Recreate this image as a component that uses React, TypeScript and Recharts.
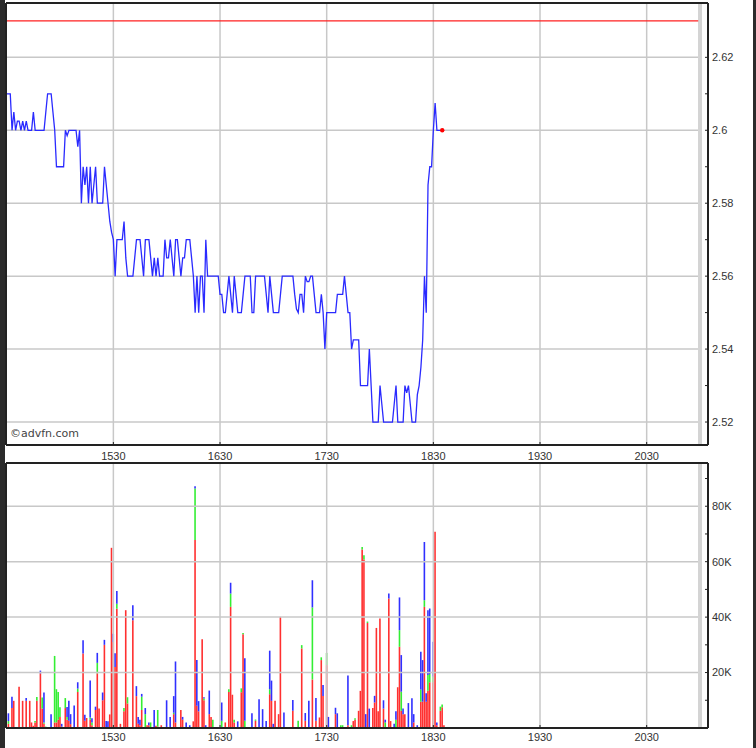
import {
  Bar,
  ComposedChart,
  Line,
  ReferenceDot,
  ReferenceLine,
  XAxis,
  YAxis,
} from "recharts";

// minutes after 14:30, one price per minute
const price = [
  2.61, 2.61, 2.61, 2.6, 2.605, 2.6, 2.6025, 2.6025, 2.6, 2.6025,
  2.6, 2.6025, 2.6, 2.6, 2.6, 2.605, 2.6, 2.6, 2.6, 2.6,
  2.6, 2.6, 2.605, 2.61, 2.61, 2.61, 2.605, 2.6, 2.59, 2.59,
  2.59, 2.59, 2.59, 2.6, 2.5985, 2.6, 2.6, 2.6, 2.6, 2.6,
  2.5955, 2.6, 2.58, 2.59, 2.585, 2.59, 2.58, 2.59, 2.58, 2.585,
  2.59, 2.58, 2.58, 2.58, 2.58, 2.59, 2.585, 2.58, 2.575, 2.572,
  2.57, 2.56, 2.57, 2.57, 2.57, 2.57, 2.575, 2.565, 2.56, 2.56,
  2.56, 2.56, 2.565, 2.57, 2.57, 2.57, 2.565, 2.56, 2.57, 2.57,
  2.57, 2.565, 2.56, 2.565, 2.56, 2.565, 2.56, 2.56, 2.56, 2.57,
  2.565, 2.565, 2.57, 2.565, 2.56, 2.57, 2.57, 2.565, 2.56, 2.565,
  2.565, 2.57, 2.57, 2.57, 2.565, 2.56, 2.55, 2.56, 2.55, 2.56,
  2.56, 2.55, 2.57, 2.56, 2.56, 2.56, 2.56, 2.56, 2.56, 2.56,
  2.555, 2.555, 2.55, 2.55, 2.555, 2.56, 2.555, 2.55, 2.56, 2.555,
  2.55, 2.55, 2.55, 2.555, 2.56, 2.56, 2.56, 2.56, 2.55, 2.55,
  2.56, 2.56, 2.56, 2.56, 2.56, 2.56, 2.555, 2.55, 2.56, 2.555,
  2.55, 2.55, 2.55, 2.55, 2.555, 2.56, 2.56, 2.56, 2.56, 2.56,
  2.56, 2.56, 2.555, 2.551, 2.55, 2.555, 2.555, 2.55, 2.56, 2.5585,
  2.5585, 2.56, 2.56, 2.555, 2.55, 2.55, 2.55, 2.555, 2.55, 2.54,
  2.55, 2.55, 2.55, 2.55, 2.55, 2.55, 2.555, 2.555, 2.555, 2.555,
  2.56, 2.555, 2.55, 2.55, 2.54, 2.5425, 2.5425, 2.5425, 2.5425, 2.53,
  2.53, 2.53, 2.53, 2.53, 2.54, 2.53, 2.52, 2.52, 2.52, 2.52,
  2.53, 2.525, 2.52, 2.52, 2.52, 2.52, 2.52, 2.52, 2.525, 2.53,
  2.52, 2.52, 2.52, 2.52, 2.53, 2.528, 2.53, 2.525, 2.52, 2.52,
  2.52, 2.5275, 2.53, 2.535, 2.5425, 2.56, 2.55, 2.585, 2.59, 2.59,
  2.6, 2.6075, 2.6, 2.6, 2.6, 2.6,
];

const refPrice = 2.63;

// volume in thousands, stacked red / green / blue per minute
const volMinute = [
  1, 3, 4, 7, 9, 11, 13, 14, 15, 16, 17, 19, 20, 21, 22, 25, 27, 28, 29, 30,
  31, 33, 34, 35, 36, 38, 40, 43, 44, 45, 47, 48, 50, 51, 52, 54, 55, 56, 57, 58,
  59, 60, 61, 62, 64, 66, 67, 68, 71, 73, 74, 75, 76, 78, 79, 80, 81, 83, 84, 85,
  87, 90, 92, 94, 95, 98, 99, 101, 103, 105, 106, 107, 108, 110, 111, 112, 114, 115, 116, 121,
  123, 125, 126, 127, 128, 130, 132, 133, 134, 138, 140, 142, 144, 146, 148, 149, 150, 151, 153, 154,
  156, 161, 164, 166, 168, 170, 172, 174, 176, 177, 178, 180, 181, 185, 186, 188, 189, 192, 194, 195,
  196, 198, 199, 200, 201, 202, 203, 204, 206, 207, 208, 209, 210, 212, 213, 215, 216, 218, 219, 220,
  221, 222, 223, 224, 226, 228, 229, 231, 233, 234, 235, 236, 237, 238, 240, 241, 242, 244, 245, 246,
];
const volRed = [
  1.5, 7.2, 9.8, 14.9, 9.8, 9.8, 9.8, 2, 0.8, 2, 9.8, 19.7, 7, 1.5, 0, 0, 2, 2, 3, 4,
  0.5, 7.2, 3, 2.6, 1.4, 0, 13, 26.9, 2.6, 3.6, 3, 1, 6.5, 19.7, 7, 10, 30, 0, 0, 4.9,
  65, 31, 22, 43, 1.5, 6, 42.5, 8.8, 38.9, 11.5, 1.5, 1, 6.5, 0, 1, 1, 0, 0, 0.8, 0.5,
  1, 0, 0, 5, 2, 6.5, 3, 0, 0, 2.4, 67.8, 8, 6, 32, 10, 0, 5, 4, 0, 0,
  2, 13, 43.7, 12, 2, 0, 12.9, 33.8, 0, 0, 2.6, 0, 0, 0, 12.2, 9.8, 0, 9.8, 5, 40.1,
  0, 6.2, 0, 28.7, 2.6, 0, 17.5, 2.6, 3.8, 24.5, 11.5, 22.7, 0, 5, 0, 0, 0, 1, 0, 2.5,
  3, 6.2, 13.4, 64.4, 60.8, 0, 37.9, 0, 7.2, 9.2, 36.1, 6, 39.5, 7, 0, 46.7, 2.5, 0, 0, 14.7,
  29.3, 6.2, 5, 5, 0, 0, 2, 0, 9.5, 9.5, 43.7, 9.5, 13.4, 16.5, 16.5, 70.8, 1, 6.2, 7.5, 1,
];
const volGreen = [
  1, 0, 0, 0, 0, 0, 0, 0, 0, 0.5, 1.4, 0, 4, 0.5, 0.5, 0, 24, 12, 10, 3.5,
  0, 3.6, 1, 0, 0, 0, 1.2, 0, 0, 0, 0.8, 1, 0, 3.8, 0, 0, 0, 0, 0, 0,
  0, 0, 0, 1.8, 0, 1.2, 0, 2.3, 0, 0, 0, 0, 4.8, 5, 0, 0, 2, 0, 0, 6,
  0, 0, 0, 0.5, 0, 0, 0, 0, 0, 0, 18.6, 0, 0, 0, 0.6, 0, 0, 0, 3, 2.6,
  0, 1, 4.8, 0, 1, 0, 1.4, 0.5, 2.6, 0, 0.5, 0, 0, 0, 1.8, 0, 0, 0, 0, 0,
  0, 0, 2.6, 1.2, 0, 0, 26, 0, 0, 1, 0, 4.4, 0, 0, 0, 1, 1, 0, 1, 0,
  0.5, 0, 0, 0.9, 1.5, 0, 0.5, 0, 0, 0, 0, 0, 0, 0, 2, 0, 0, 0, 3, 0,
  6, 6.9, 0, 0, 0, 0, 0, 0, 4.4, 0, 2.4, 0, 5.7, 3, 2, 0, 0, 1.5, 1, 0,
];
const volBlue = [
  2.8, 4.1, 0, 0, 0, 1, 0, 0, 0, 0, 0, 1, 0, 10.8, 0, 5, 0, 0, 0, 0,
  1, 0, 3.6, 7.2, 3.6, 8.1, 2.3, 4.8, 2.2, 0, 13.3, 1.5, 1.2, 3.6, 0, 2.8, 1.8, 2.5, 2.4, 0,
  0, 3, 5, 4.6, 0, 0, 0, 0, 5.4, 3.6, 2.5, 2, 1, 2.2, 0, 1, 0, 6.5, 0, 0,
  0, 10, 4, 6, 22, 0, 1, 2, 1, 0, 0.8, 16.5, 3.7, 0, 0.5, 1, 8.5, 0, 0, 6.6,
  0, 0, 3.9, 0, 0, 2.4, 0, 0, 22.6, 5.3, 0, 10.4, 6.8, 2.5, 13.9, 7.3, 1.5, 0, 0, 0,
  5.6, 3.9, 0, 0, 2.8, 9.8, 9.8, 8.2, 0, 0, 4, 0, 4, 2.3, 5.3, 0, 0, 17.9, 0, 0,
  0, 0, 0, 0, 0, 5, 0, 7, 0, 2.4, 0, 0, 0, 3, 1, 1.8, 0, 1.5, 3, 0,
  11.8, 13.2, 2, 0, 9, 10.7, 3, 1, 13.6, 15, 21, 3, 23.4, 23.6, 12.6, 0, 1, 0, 0, 0,
];

const xTicks = [60, 120, 180, 240, 300, 360];
const xTickLabels = ["1530", "1630", "1730", "1830", "1930", "2030"];
const sessionEnd = 390; // 21:00

const priceTicks = [2.52, 2.53, 2.54, 2.55, 2.56, 2.57, 2.58, 2.59, 2.6, 2.61, 2.62];
const priceLabels = [2.52, 2.54, 2.56, 2.58, 2.6, 2.62];
const volTicks = [10, 20, 30, 40, 50, 60, 70, 80, 90];
const volLabels = [20, 40, 60, 80];

const xDomain = [-0.4, 394.5];
const priceDomain = [2.5137, 2.6349];
const volDomain = [0, 95.6];

const priceRows = price.map((p, i) => ({ t: i, p }));
const volRows = volMinute.map((t, i) => ({
  t,
  r: volRed[i],
  g: volGreen[i],
  b: volBlue[i],
}));

const FONT = '"Liberation Sans", Arial, sans-serif';
const FRAME = "#222";
const GRID = "#c8c8c8";
const tickText = { fontSize: 11, fill: "#333", fontFamily: FONT };
const frameLine = { stroke: FRAME, strokeWidth: 2 };

const fmtTime = (v: number) => xTickLabels[xTicks.indexOf(v)] ?? "";
const fmtPrice = (v: number) => (priceLabels.includes(v) ? String(v) : "");
const fmtVol = (v: number) => (volLabels.includes(v) ? `${v}K` : "");

export default function App() {
  return (
    <div
      style={{
        position: "absolute",
        left: 0,
        top: 0,
        width: 756,
        height: 748,
        background: "#fff",
        fontFamily: FONT,
        overflow: "hidden",
      }}
    >
      <ComposedChart
        width={756}
        height={462}
        data={priceRows}
        margin={{ top: 2, right: 0, bottom: 0, left: 0 }}
      >
        <XAxis
          xAxisId="b"
          dataKey="t"
          type="number"
          domain={xDomain}
          allowDataOverflow
          ticks={xTicks}
          interval={0}
          tickFormatter={fmtTime}
          height={17}
          axisLine={frameLine}
          tickLine={{ stroke: FRAME }}
          tickSize={-3}
          tickMargin={10}
          tick={tickText}
        />
        <XAxis
          xAxisId="t"
          orientation="top"
          dataKey="t"
          type="number"
          domain={xDomain}
          allowDataOverflow
          ticks={xTicks}
          interval={0}
          height={1}
          tick={false}
          tickSize={-3}
          axisLine={frameLine}
          tickLine={{ stroke: FRAME }}
        />
        <YAxis
          yAxisId="r"
          orientation="right"
          type="number"
          domain={priceDomain}
          allowDataOverflow
          ticks={priceTicks}
          interval={0}
          tickFormatter={fmtPrice}
          width={48}
          tickSize={-3}
          tickMargin={7}
          axisLine={frameLine}
          tickLine={{ stroke: FRAME }}
          tick={tickText}
        />
        <YAxis
          yAxisId="l"
          orientation="left"
          type="number"
          domain={priceDomain}
          allowDataOverflow
          ticks={priceTicks}
          interval={0}
          width={6}
          tick={false}
          tickSize={-3}
          axisLine={frameLine}
          tickLine={{ stroke: FRAME }}
        />
        {xTicks.map((t) => (
          <ReferenceLine key={t} xAxisId="b" yAxisId="r" x={t} stroke={GRID} strokeWidth={1.5} />
        ))}
        {priceLabels.map((v) => (
          <ReferenceLine
            key={v}
            xAxisId="b"
            yAxisId="r"
            segment={[
              { x: xDomain[0], y: v },
              { x: sessionEnd - 1, y: v },
            ]}
            stroke={GRID}
            strokeWidth={1.5}
          />
        ))}
        <ReferenceLine xAxisId="b" yAxisId="r" x={sessionEnd} stroke="#d4d4d4" strokeWidth={4} />
        <ReferenceLine
          xAxisId="b"
          yAxisId="r"
          segment={[
            { x: xDomain[0], y: refPrice },
            { x: sessionEnd - 1, y: refPrice },
          ]}
          stroke="#ff2020"
          strokeWidth={1.3}
        />
        <Line
          xAxisId="b"
          yAxisId="r"
          dataKey="p"
          type="linear"
          stroke="#2a2aff"
          strokeWidth={1.3}
          dot={false}
          activeDot={false}
          isAnimationActive={false}
        />
        <ReferenceDot
          xAxisId="b"
          yAxisId="r"
          x={price.length - 1}
          y={price[price.length - 1]}
          r={2.2}
          fill="#ff0000"
          stroke="none"
        />
      </ComposedChart>

      <ComposedChart
        width={756}
        height={286}
        data={volRows}
        margin={{ top: 0, right: 0, bottom: 0, left: 0 }}
      >
        <XAxis
          xAxisId="b"
          dataKey="t"
          type="number"
          domain={xDomain}
          allowDataOverflow
          ticks={xTicks}
          interval={0}
          tickFormatter={fmtTime}
          height={20}
          axisLine={frameLine}
          tickLine={{ stroke: FRAME }}
          tickSize={-3}
          tickMargin={8}
          tick={tickText}
        />
        <XAxis
          xAxisId="t"
          orientation="top"
          dataKey="t"
          type="number"
          domain={xDomain}
          allowDataOverflow
          ticks={xTicks}
          interval={0}
          height={1}
          tick={false}
          tickSize={-3}
          axisLine={frameLine}
          tickLine={{ stroke: FRAME }}
        />
        <YAxis
          yAxisId="r"
          orientation="right"
          type="number"
          domain={volDomain}
          allowDataOverflow
          ticks={volTicks}
          interval={0}
          tickFormatter={fmtVol}
          width={48}
          tickSize={-3}
          tickMargin={7}
          axisLine={frameLine}
          tickLine={{ stroke: FRAME }}
          tick={tickText}
        />
        <YAxis
          yAxisId="l"
          orientation="left"
          type="number"
          domain={volDomain}
          allowDataOverflow
          ticks={volTicks}
          interval={0}
          width={6}
          tick={false}
          tickSize={-3}
          axisLine={frameLine}
          tickLine={{ stroke: FRAME }}
        />
        {xTicks.map((t) => (
          <ReferenceLine key={t} xAxisId="b" yAxisId="r" x={t} stroke={GRID} strokeWidth={1.5} />
        ))}
        {volLabels.map((v) => (
          <ReferenceLine
            key={v}
            xAxisId="b"
            yAxisId="r"
            segment={[
              { x: xDomain[0], y: v },
              { x: sessionEnd - 1, y: v },
            ]}
            stroke={GRID}
            strokeWidth={1.5}
          />
        ))}
        <ReferenceLine xAxisId="b" yAxisId="r" x={sessionEnd} stroke="#d4d4d4" strokeWidth={4} />
        <Bar xAxisId="b" yAxisId="r" dataKey="r" stackId="v" fill="#ff3030" barSize={2} isAnimationActive={false} />
        <Bar xAxisId="b" yAxisId="r" dataKey="g" stackId="v" fill="#33ee33" barSize={2} isAnimationActive={false} />
        <Bar xAxisId="b" yAxisId="r" dataKey="b" stackId="v" fill="#3030ff" barSize={2} isAnimationActive={false} />
      </ComposedChart>

      <div
        style={{
          position: "absolute",
          left: 10,
          top: 427,
          fontFamily: '"DejaVu Sans", Verdana, sans-serif',
          fontSize: 11,
          lineHeight: "13px",
          color: "#444",
        }}
      >
        ©advfn.com
      </div>
      <div style={{ position: "absolute", left: 0, top: 0, width: 5, height: 748, background: "#2b2b2b" }} />
      <div style={{ position: "absolute", left: 753, top: 0, width: 3, height: 748, background: "#2b2b2b" }} />
    </div>
  );
}
